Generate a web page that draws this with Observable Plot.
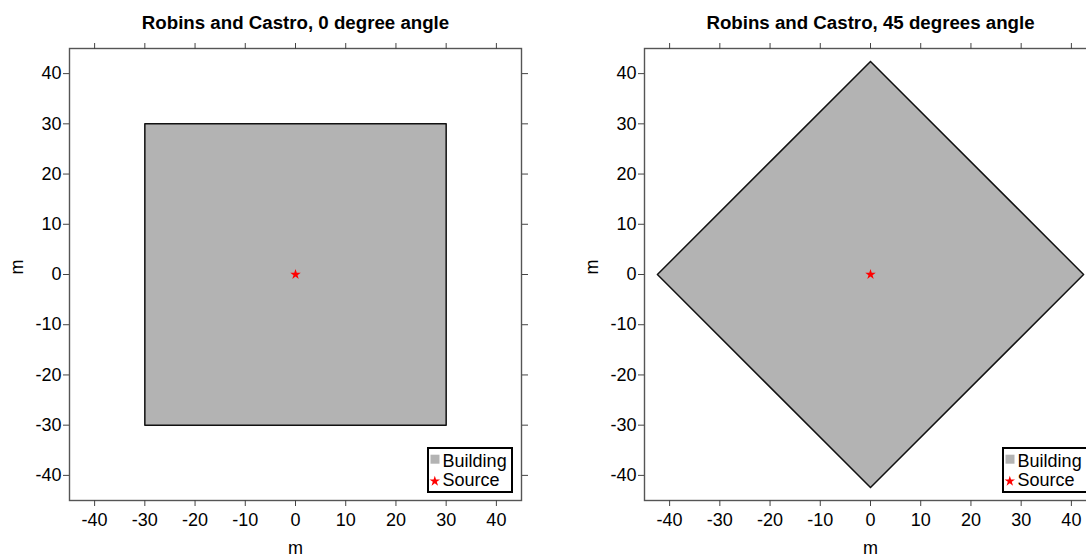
<!DOCTYPE html>
<html>
<head>
<meta charset="utf-8">
<script src="https://cdn.jsdelivr.net/npm/d3@7"></script>
<script src="https://cdn.jsdelivr.net/npm/@observablehq/plot@0.6"></script>
<style>
  html, body { margin: 0; padding: 0; background: #fff; }
  #page { position: relative; width: 1086px; height: 557px; overflow: hidden; font-family: "Liberation Sans", Arial, sans-serif; }
  .panel { position: absolute; top: 0; width: 560px; height: 557px; }
  .legend { position: absolute; left: 427px; top: 447px; width: 86px; height: 46px; box-sizing: border-box;
            border: 2px solid #000; background: #fff; }
  .legend svg { display: block; }
</style>
</head>
<body>
<div id="page"></div>
<script>
// ---- data ----
const titles = ["Robins and Castro, 0 degree angle", "Robins and Castro, 45 degrees angle"];
const building0X = [-30, 30, 30, -30, -30];
const building0Y = [30, 30, -30, -30, 30];
const building45X = [0, 42.43, 0, -42.43, 0];
const building45Y = [42.43, 0, -42.43, 0, 42.43];
const sourceX = [0];
const sourceY = [0];
const tickValues = [-40, -30, -20, -10, 0, 10, 20, 30, 40];
const tickLabels = ["-40", "-30", "-20", "-10", "0", "10", "20", "30", "40"];
const axisLabel = "m";
const legendLabels = ["Building", "Source"];
const domain = [-45, 45];

const fmt = d => tickLabels[tickValues.indexOf(d)];
const starSize = 34;

function makePanel(title, bx, by) {
  const poly = bx.map((x, i) => ({x, y: by[i]}));
  const src = sourceX.map((x, i) => ({x, y: sourceY[i]}));
  const tickStroke = "#444";
  return Plot.plot({
    width: 560, height: 557,
    marginLeft: 69, marginRight: 39, marginTop: 48, marginBottom: 57,
    x: {domain, ticks: tickValues},
    y: {domain, ticks: tickValues},
    style: {fontFamily: '"Liberation Sans", Arial, sans-serif', fontSize: "18px", color: "#000", background: "#fff", overflow: "visible"},
    marks: [
      Plot.line(poly, {x: "x", y: "y", fill: "#b3b3b3", stroke: "#111", strokeWidth: 1.5}),
      Plot.dot(src, {x: "x", y: "y", symbol: "star", r: Math.sqrt(starSize / Math.PI), fill: "red", stroke: "none"}),
      Plot.frame({stroke: "#555", strokeWidth: 1.4}),
      Plot.axisX({anchor: "bottom", ticks: tickValues, tickFormat: fmt, tickSize: 6, tickPadding: 7, stroke: tickStroke, label: null}),
      Plot.axisX({anchor: "top", ticks: tickValues, tickFormat: () => "", tickSize: 6, stroke: tickStroke, label: null}),
      Plot.axisY({anchor: "left", ticks: tickValues, tickFormat: fmt, tickSize: 6, tickPadding: 2, stroke: tickStroke, label: null}),
      Plot.axisY({anchor: "right", ticks: tickValues, tickFormat: () => "", tickSize: 6, stroke: tickStroke, label: null}),
      Plot.text([title], {frameAnchor: "top", dy: -25.5, lineAnchor: "middle", fontWeight: "bold", fontSize: 18.7}),
      Plot.text([axisLabel], {frameAnchor: "bottom", dy: 48, lineAnchor: "middle", fontSize: 18}),
      Plot.text([axisLabel], {frameAnchor: "left", dx: -52.5, rotate: -90, lineAnchor: "middle", fontSize: 18})
    ]
  });
}

function makeLegend() {
  const div = document.createElement("div");
  div.className = "legend";
  const svg = d3.create("svg").attr("width", 82).attr("height", 42)
    .style("font-family", '"Liberation Sans", Arial, sans-serif').style("font-size", "18px");
  svg.append("rect").attr("x", 1.5).attr("y", 5.7).attr("width", 9).attr("height", 9).attr("fill", "#b3b3b3");
  svg.append("text").attr("x", 13.6).attr("y", 18.4).text(legendLabels[0]);
  svg.append("path").attr("transform", "translate(5.8,32.2)")
    .attr("d", d3.symbol(d3.symbolStar, starSize)()).attr("fill", "red");
  svg.append("text").attr("x", 13.6).attr("y", 37.4).text(legendLabels[1]);
  div.appendChild(svg.node());
  return div;
}

const page = document.getElementById("page");
const panels = [
  {left: 0, title: titles[0], bx: building0X, by: building0Y},
  {left: 575.3, title: titles[1], bx: building45X, by: building45Y}
];
for (const p of panels) {
  const wrap = document.createElement("div");
  wrap.className = "panel";
  wrap.style.left = p.left + "px";
  wrap.appendChild(makePanel(p.title, p.bx, p.by));
  wrap.appendChild(makeLegend());
  page.appendChild(wrap);
}
</script>
</body>
</html>
